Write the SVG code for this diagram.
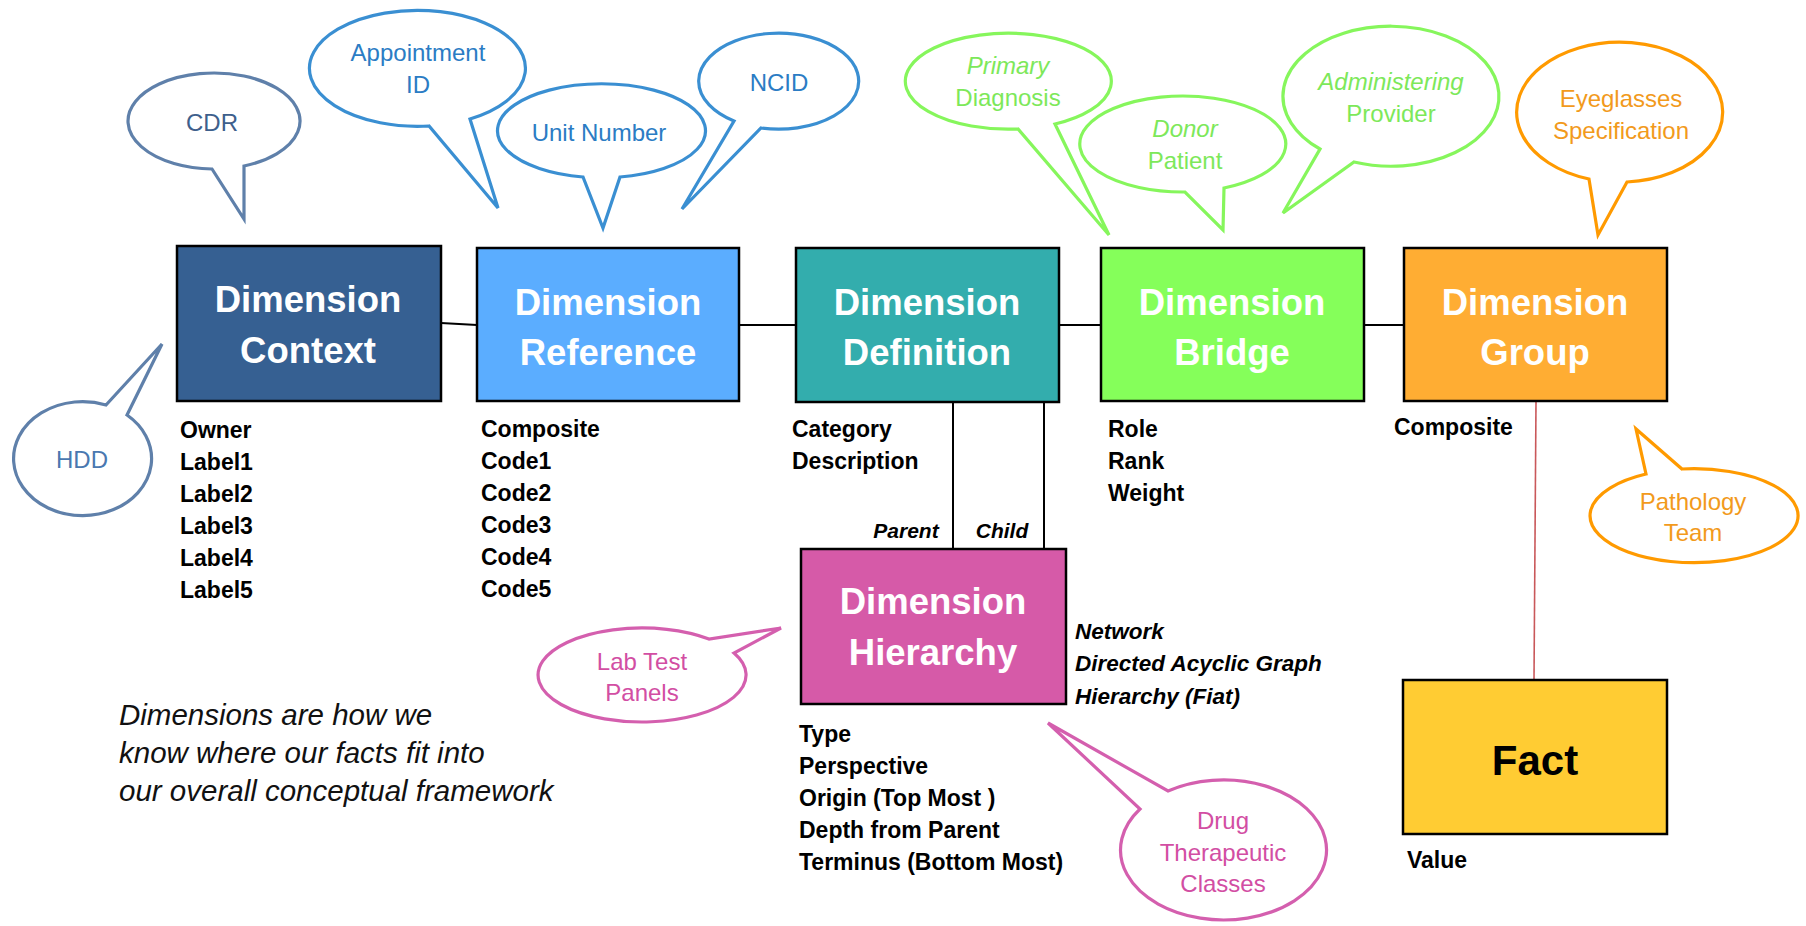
<svg xmlns="http://www.w3.org/2000/svg" width="1806" height="926" viewBox="0 0 1806 926">
<style>
.box{stroke:#000;stroke-width:2.5}
.title{font-family:"Liberation Sans",Arial,sans-serif;font-weight:bold;font-size:36.5px;fill:#fff;text-anchor:middle}
.list{font-family:"Liberation Sans",Arial,sans-serif;font-weight:bold;font-size:23px;fill:#000}
.ilist{font-family:"Liberation Sans",Arial,sans-serif;font-weight:bold;font-style:italic;font-size:22.5px;fill:#000}
.pc{font-family:"Liberation Sans",Arial,sans-serif;font-weight:bold;font-style:italic;font-size:21px;fill:#000;text-anchor:middle}
.note{font-family:"Liberation Sans",Arial,sans-serif;font-style:italic;font-size:29.5px;fill:#111}
.bt{font-family:"Liberation Sans",Arial,sans-serif;font-size:24px;text-anchor:middle}
.bub{fill:#fff;stroke-width:3.2;stroke-linejoin:miter}
.conn{stroke:#000;stroke-width:2;fill:none}
.slate{stroke:#5f80aa}
.blue{stroke:#3a8fd2}
.green{stroke:#86f65c}
.orange{stroke:#ff9a00}
.mag{stroke:#d45fae}
.tslate{fill:#3e5f8c}
.thdd{fill:#4a78b0}
.tblue{fill:#2b7cc4}
.tgreen{fill:#7de85a}
.torange{fill:#f29a1c}
.tmag{fill:#d24ea3}
</style>

<g id="connectors">
<line class="conn" x1="441" y1="323" x2="477" y2="325"/>
<line class="conn" x1="739" y1="325" x2="796" y2="325"/>
<line class="conn" x1="1059" y1="325" x2="1101" y2="325"/>
<line class="conn" x1="1364" y1="325" x2="1404" y2="325"/>
<line class="conn" x1="953" y1="402" x2="953" y2="549"/>
<line class="conn" x1="1044" y1="402" x2="1044" y2="549"/>
<line x1="1536" y1="402" x2="1534" y2="680" stroke="#c9585a" stroke-width="1.6"/>
</g>

<g id="dimension-context">
<rect class="box" x="177" y="246" width="264" height="155" fill="#366092"/>
<text class="title" x="308" y="312">Dimension</text>
<text class="title" x="308" y="363">Context</text>
<text class="list" x="180" y="438">Owner</text>
<text class="list" x="180" y="470">Label1</text>
<text class="list" x="180" y="502">Label2</text>
<text class="list" x="180" y="534">Label3</text>
<text class="list" x="180" y="566">Label4</text>
<text class="list" x="180" y="598">Label5</text>
</g>

<g id="dimension-reference">
<rect class="box" x="477" y="248" width="262" height="153" fill="#5badff"/>
<text class="title" x="608" y="315">Dimension</text>
<text class="title" x="608" y="365">Reference</text>
<text class="list" x="481" y="437">Composite</text>
<text class="list" x="481" y="469">Code1</text>
<text class="list" x="481" y="501">Code2</text>
<text class="list" x="481" y="533">Code3</text>
<text class="list" x="481" y="565">Code4</text>
<text class="list" x="481" y="597">Code5</text>
</g>

<g id="dimension-definition">
<rect class="box" x="796" y="248" width="263" height="154" fill="#33adad"/>
<text class="title" x="927" y="315">Dimension</text>
<text class="title" x="927" y="365">Definition</text>
<text class="list" x="792" y="437">Category</text>
<text class="list" x="792" y="469">Description</text>
</g>

<g id="dimension-bridge">
<rect class="box" x="1101" y="248" width="263" height="153" fill="#85ff5a"/>
<text class="title" x="1232" y="315">Dimension</text>
<text class="title" x="1232" y="365">Bridge</text>
<text class="list" x="1108" y="437">Role</text>
<text class="list" x="1108" y="469">Rank</text>
<text class="list" x="1108" y="501">Weight</text>
</g>

<g id="dimension-group">
<rect class="box" x="1404" y="248" width="263" height="153" fill="#ffad33"/>
<text class="title" x="1535" y="315">Dimension</text>
<text class="title" x="1535" y="365">Group</text>
<text class="list" x="1394" y="435">Composite</text>
</g>

<g id="dimension-hierarchy">
<rect class="box" x="801" y="549" width="265" height="155" fill="#d65aa8"/>
<text class="title" x="933" y="614">Dimension</text>
<text class="title" x="933" y="665">Hierarchy</text>
<text class="pc" x="906" y="538">Parent</text>
<text class="pc" x="1002" y="538">Child</text>
<text class="ilist" x="1075" y="639">Network</text>
<text class="ilist" x="1075" y="671">Directed Acyclic Graph</text>
<text class="ilist" x="1075" y="704">Hierarchy (Fiat)</text>
<text class="list" x="799" y="742">Type</text>
<text class="list" x="799" y="774">Perspective</text>
<text class="list" x="799" y="806">Origin (Top Most )</text>
<text class="list" x="799" y="838">Depth from Parent</text>
<text class="list" x="799" y="870">Terminus (Bottom Most)</text>
</g>

<g id="fact">
<rect class="box" x="1403" y="680" width="264" height="154" fill="#ffcc33"/>
<text x="1535" y="775" font-family="Liberation Sans, Arial, sans-serif" font-weight="bold" font-size="42" fill="#000" text-anchor="middle">Fact</text>
<text class="list" x="1407" y="868">Value</text>
</g>

<g id="note">
<text class="note" x="119" y="725">Dimensions are how we</text>
<text class="note" x="119" y="763">know where our facts fit into</text>
<text class="note" x="119" y="801">our overall conceptual framework</text>
</g>

<g id="callout-cdr">
<path class="bub slate" d="M244,166 A86,48 0 1 0 212,169 L244,219 Z"/>
<text class="bt tslate" x="212" y="131">CDR</text>
</g>
<g id="callout-hdd">
<path class="bub slate" d="M127,415 A69,57 0 1 1 106,405 L162,344 Z"/>
<text class="bt thdd" x="82" y="468">HDD</text>
</g>
<g id="callout-appointment">
<path class="bub blue" d="M470,119 A108,58 0 1 0 429,126 L498,208 Z"/>
<text class="bt tblue" x="418" y="61">Appointment</text>
<text class="bt tblue" x="418" y="93">ID</text>
</g>
<g id="callout-unit">
<path class="bub blue" d="M620,177 A104,47 0 1 0 583,177 L603,228 Z"/>
<text class="bt tblue" x="599" y="141">Unit Number</text>
</g>
<g id="callout-ncid">
<path class="bub blue" d="M761,128 A80,48 0 1 0 734,121 L682,209 Z"/>
<text class="bt tblue" x="779" y="91">NCID</text>
</g>
<g id="callout-primary">
<path class="bub green" d="M1055,124 A103,48 0 1 0 1018,129 L1109,235 Z"/>
<text class="bt tgreen" x="1008" y="74" font-style="italic">Primary</text>
<text class="bt tgreen" x="1008" y="106">Diagnosis</text>
</g>
<g id="callout-donor">
<path class="bub green" d="M1224,188 A103,48 0 1 0 1185,192 L1223,230 Z"/>
<text class="bt tgreen" x="1185" y="137" font-style="italic">Donor</text>
<text class="bt tgreen" x="1185" y="169">Patient</text>
</g>
<g id="callout-administering">
<path class="bub green" d="M1354,162 A108,70 0 1 0 1320,149 L1283,213 Z"/>
<text class="bt tgreen" x="1391" y="90" font-style="italic">Administering</text>
<text class="bt tgreen" x="1391" y="122">Provider</text>
</g>
<g id="callout-eyeglasses">
<path class="bub orange" d="M1627,182 A103,70 0 1 0 1589,179 L1598,235 Z"/>
<text class="bt torange" x="1621" y="107">Eyeglasses</text>
<text class="bt torange" x="1621" y="139">Specification</text>
</g>
<g id="callout-pathology">
<path class="bub orange" d="M1682,469 A104,47 0 1 1 1646,474 L1636,429 Z"/>
<text class="bt torange" x="1693" y="510">Pathology</text>
<text class="bt torange" x="1693" y="541">Team</text>
</g>
<g id="callout-labtest">
<path class="bub mag" d="M734,653 A104,47 0 1 1 709,639 L781,628 Z"/>
<text class="bt tmag" x="642" y="670">Lab Test</text>
<text class="bt tmag" x="642" y="701">Panels</text>
</g>
<g id="callout-drug">
<path class="bub mag" d="M1168,791 A103,70 0 1 1 1140,809 L1048,723 Z"/>
<text class="bt tmag" x="1223" y="829">Drug</text>
<text class="bt tmag" x="1223" y="861">Therapeutic</text>
<text class="bt tmag" x="1223" y="892">Classes</text>
</g>
</svg>
